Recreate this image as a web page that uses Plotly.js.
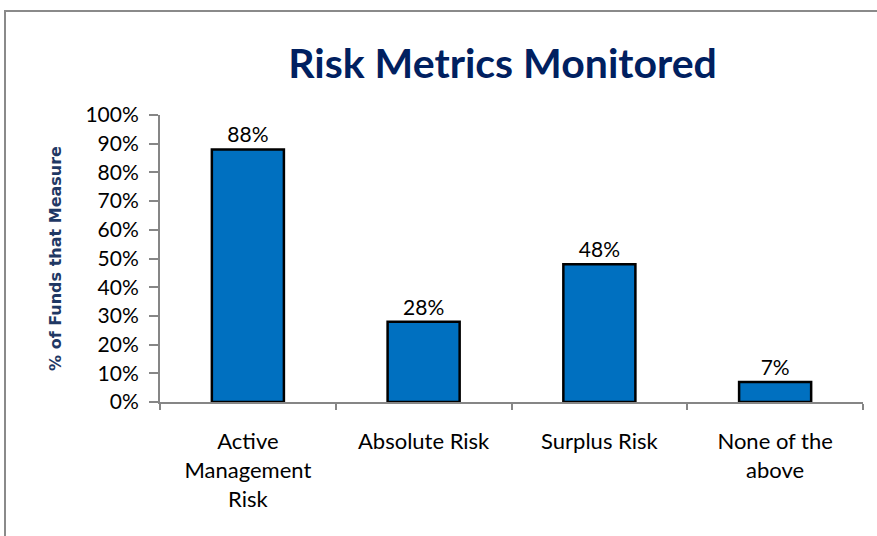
<!DOCTYPE html>
<html>
<head>
<meta charset="utf-8">
<script src="https://cdn.plot.ly/plotly-3.0.1.min.js"></script>
<style>
  html, body { margin: 0; padding: 0; background: #fff; overflow: hidden; }
  #chart { position: absolute; left: 0; top: 0; width: 877px; height: 536px; }
  #frame { position: absolute; left: 4px; top: 10px; width: 900px; height: 600px;
           border-left: 2px solid #8a8a8a; border-top: 2px solid #8a8a8a; pointer-events: none; }
</style>
</head>
<body>
<div id="chart"></div>
<div id="frame"></div>
<script>
const categories = ["Active<br>Management<br>Risk", "Absolute Risk", "Surplus Risk", "None of the<br>above"];
const values = [0.88, 0.28, 0.48, 0.07];
const labels = ["88%", "28%", "48%", "7%"];
const yTickVals = [0, 0.1, 0.2, 0.3, 0.4, 0.5, 0.6, 0.7, 0.8, 0.9, 1.0];
const yTickText = ["0%", "10%", "20%", "30%", "40%", "50%", "60%", "70%", "80%", "90%", "100%"];

const fontFam = "Lato, Open Sans, sans-serif";
const axisColor = "#868686";

const trace = {
  type: "bar",
  x: categories,
  y: values,
  text: labels,
  textposition: "outside",
  cliponaxis: false,
  textfont: { family: fontFam, size: 21, color: "#000" },
  marker: { color: "#0070C0", line: { color: "#000", width: 2.5 } },
  width: 0.41,
  hoverinfo: "skip"
};

const layout = {
  width: 877, height: 536,
  margin: { l: 160, r: 14, t: 115, b: 134 },
  paper_bgcolor: "#fff", plot_bgcolor: "#fff",
  showlegend: false,
  title: {
    text: "<b>Risk Metrics Monitored</b>",
    font: { family: fontFam, size: 41, color: "#002060" },
    x: 0.573, xanchor: "center", y: 0.882, yanchor: "middle", yref: "container"
  },
  xaxis: {
    type: "category",
    range: [-0.5, 3.5],
    showline: true, linecolor: axisColor, linewidth: 2,
    ticks: "outside", tickson: "boundaries", ticklen: 6, tickwidth: 2, tickcolor: axisColor,
    ticklabelstandoff: 19,
    tickfont: { family: fontFam, size: 22, color: "#000" },
    showgrid: false, zeroline: false, fixedrange: true
  },
  yaxis: {
    range: [0, 1],
    tickvals: yTickVals, ticktext: yTickText,
    showline: true, linecolor: axisColor, linewidth: 2,
    ticks: "outside", ticklen: 9, tickwidth: 2, tickcolor: axisColor,
    ticklabelstandoff: 6,
    tickfont: { family: fontFam, size: 21, color: "#000" },
    showgrid: false, zeroline: false, fixedrange: true,
    title: {
      text: "<b>% of Funds that Measure</b>",
      font: { family: "DejaVu Sans, Verdana, sans-serif", size: 16, color: "#1f3864" },
      standoff: 20
    }
  }
};

Plotly.newPlot("chart", [trace], layout, { displayModeBar: false, staticPlot: true });
</script>
</body>
</html>
